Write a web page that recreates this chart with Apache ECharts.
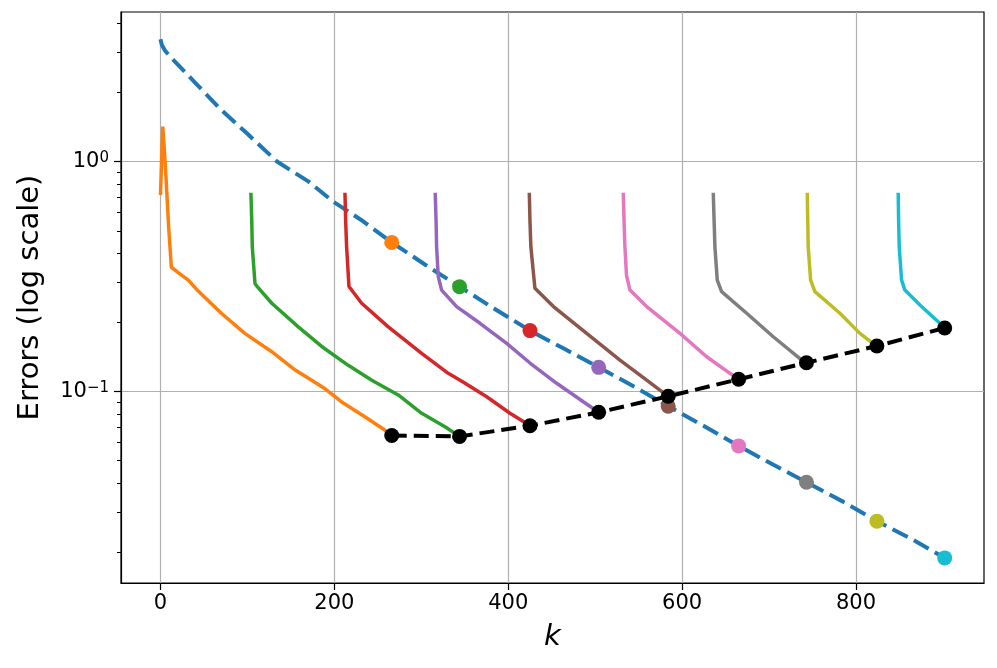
<!DOCTYPE html>
<html>
<head>
<meta charset="utf-8">
<script src="https://cdn.jsdelivr.net/npm/echarts@6/dist/echarts.min.js"></script>
<style>
  html, body { margin: 0; padding: 0; background: #fff; }
  #chart { width: 997px; height: 668px; }
</style>
</head>
<body>
<div id="chart"></div>
<script>
// reference run (dashed blue) and restarted runs, errors
var blueK = [0, 1.5, 5, 11, 20, 40, 69, 100, 134, 170, 199, 230, 266, 305, 344, 385, 425, 465, 504, 545, 584, 625, 665, 705, 743, 785, 824, 865, 902];
var blueErr = [3.4, 3.22, 3.05, 2.86, 2.64, 2.2, 1.69, 1.32, 1.0, 0.82, 0.668, 0.56, 0.445, 0.355, 0.2855, 0.228, 0.184, 0.153, 0.1274, 0.105, 0.0863, 0.0708, 0.058, 0.048, 0.0403, 0.0332, 0.0273, 0.0227, 0.0189];

var orangeK = [0, 2.6, 4, 6.3, 9.4, 12.5, 20, 32, 44, 70, 97, 128, 155, 189, 208, 235, 258, 266];
var orangeErr = [0.715, 1.42, 1.2, 0.86, 0.52, 0.347, 0.33, 0.305, 0.272, 0.219, 0.179, 0.149, 0.124, 0.103, 0.0903, 0.0777, 0.068, 0.0644];
var greenK = [104, 105, 105.6, 108.7, 110.6, 128, 158.5, 185.4, 216, 243, 273.5, 300.4, 327.2, 344];
var greenErr = [0.732, 0.55, 0.426, 0.295, 0.288, 0.242, 0.191, 0.157, 0.130, 0.112, 0.0966, 0.0804, 0.0703, 0.0638];
var redK = [212.2, 213, 214.1, 216.8, 231.4, 262, 300.4, 331, 348, 375.2, 402, 417.3, 425];
var redErr = [0.732, 0.55, 0.426, 0.286, 0.242, 0.191, 0.1466, 0.12, 0.11, 0.0949, 0.0804, 0.074, 0.071];
var purpleK = [316, 317, 317.6, 319.5, 323.4, 340.6, 367.5, 398.2, 425, 455.7, 486.3, 504];
var purpleErr = [0.732, 0.55, 0.426, 0.316, 0.276, 0.234, 0.198, 0.162, 0.133, 0.1086, 0.0903, 0.0812];
var brownK = [424.2, 425, 426, 430.7, 452, 490.2, 528.5, 559.2, 584];
var brownErr = [0.732, 0.55, 0.426, 0.281, 0.234, 0.179, 0.137, 0.112, 0.0953];
var pinkK = [532.3, 533.2, 534.2, 536, 540, 559.2, 597.5, 628.2, 655, 665];
var pinkErr = [0.732, 0.55, 0.426, 0.32, 0.276, 0.234, 0.179, 0.1417, 0.12, 0.113];
var grayK = [635.8, 636.8, 637.7, 640.4, 645.4, 674.2, 704.8, 735.5, 743];
var grayErr = [0.732, 0.55, 0.426, 0.305, 0.272, 0.219, 0.173, 0.139, 0.1334];
var oliveK = [743.9, 744.5, 745, 747.8, 752.7, 781.5, 804.5, 817.9, 824];
var oliveErr = [0.732, 0.55, 0.426, 0.305, 0.272, 0.219, 0.179, 0.1636, 0.1577];
var cyanK = [848.5, 849, 849.7, 852.4, 856.2, 873.5, 894.5, 902];
var cyanErr = [0.732, 0.55, 0.426, 0.305, 0.276, 0.238, 0.201, 0.189];

// restart points: value on the blue run and final value of each restart
var restartK = [266, 344, 425, 504, 584, 665, 743, 824, 902];
var restartBlueErr = [0.445, 0.2855, 0.184, 0.1274, 0.0863, 0.058, 0.0403, 0.0273, 0.0189];
var restartEndErr = [0.0644, 0.0638, 0.071, 0.0812, 0.0953, 0.113, 0.1334, 0.1577, 0.189];

var xTicks = [0, 200, 400, 600, 800];
var yMajorTicks = [0.1, 1];
var yMinorTicks = [0.02, 0.03, 0.04, 0.05, 0.06, 0.07, 0.08, 0.09, 0.2, 0.3, 0.4, 0.5, 0.6, 0.7, 0.8, 0.9, 2, 3, 4];

var colors = ["#ff7f0e", "#2ca02c", "#d62728", "#9467bd", "#8c564b", "#e377c2", "#7f7f7f", "#bcbd22", "#17becf"];
var runs = [
  [orangeK, orangeErr], [greenK, greenErr], [redK, redErr], [purpleK, purpleErr], [brownK, brownErr],
  [pinkK, pinkErr], [grayK, grayErr], [oliveK, oliveErr], [cyanK, cyanErr]
];

function zip(a, b) {
  return a.map(function (v, i) { return [v, b[i]]; });
}

var font = "DejaVu Sans";
var series = [];

series.push({
  type: "line",
  data: zip(blueK, blueErr),
  showSymbol: false,
  lineStyle: { color: "#1f77b4", width: 4, type: [17, 7] },
  z: 2
});

runs.forEach(function (r, i) {
  series.push({
    type: "line",
    data: zip(r[0], r[1]),
    showSymbol: false,
    lineStyle: { color: colors[i], width: 3.5 },
    z: 3
  });
});

series.push({
  type: "scatter",
  data: restartK.map(function (k, i) {
    return { value: [k, restartBlueErr[i]], itemStyle: { color: colors[i], opacity: 1 } };
  }),
  symbolSize: 15,
  itemStyle: { opacity: 1 },
  z: 4
});

series.push({
  type: "line",
  data: zip(restartK, restartEndErr),
  symbol: "circle",
  symbolSize: 15,
  itemStyle: { color: "#000", opacity: 1 },
  lineStyle: { color: "#000", width: 4, type: [15, 7] },
  z: 5
});

var chart = echarts.init(document.getElementById("chart"));
chart.setOption({
  animation: false,
  backgroundColor: "#fff",
  grid: {
    left: 121, right: 13, top: 12, bottom: 85,
    show: true, borderColor: "#000", borderWidth: 1.2
  },
  xAxis: {
    type: "value",
    min: -45.4,
    max: 947.2,
    name: "k",
    nameLocation: "middle",
    nameGap: 40,
    nameTextStyle: { fontFamily: font, fontSize: 29, fontStyle: "italic", color: "#000" },
    axisLine: { show: true, onZero: false, lineStyle: { color: "#000", width: 1.2 } },
    axisTick: { show: true, length: 7, customValues: xTicks, lineStyle: { color: "#000", width: 1.2 } },
    axisLabel: { customValues: xTicks, margin: 10, fontFamily: font, fontSize: 21, color: "#000" },
    splitLine: { show: true, lineStyle: { color: "#b0b0b0", width: 1.2 } }
  },
  yAxis: [
    {
      type: "log",
      logBase: 10,
      min: 0.0147,
      max: 4.47,
      position: "left",
      name: "Errors (log scale)",
      nameLocation: "middle",
      nameGap: 76,
      nameTextStyle: { fontFamily: font, fontSize: 29, color: "#000" },
      axisLine: { show: true, onZero: false, lineStyle: { color: "#000", width: 1.2 } },
      axisTick: { show: true, length: 7, customValues: yMajorTicks, lineStyle: { color: "#000", width: 1.2 } },
      axisLabel: {
        customValues: yMajorTicks,
        margin: 12,
        fontFamily: font,
        fontSize: 21,
        color: "#000",
        formatter: function (v) {
          var e = Math.round(Math.log10(v));
          return "10{sup|" + (e < 0 ? "\u2212" + (-e) : e) + "}";
        },
        rich: {
          sup: { fontFamily: font, fontSize: 15, color: "#000", verticalAlign: "top" }
        }
      },
      splitLine: { show: true, lineStyle: { color: "#b0b0b0", width: 1.2 } }
    },
    {
      type: "log",
      logBase: 10,
      min: 0.0147,
      max: 4.47,
      position: "left",
      axisLine: { show: false, onZero: false },
      axisTick: { show: true, length: 4, customValues: yMinorTicks, lineStyle: { color: "#000", width: 1 } },
      axisLabel: { show: false },
      splitLine: { show: false }
    }
  ],
  series: series
});
</script>
</body>
</html>
